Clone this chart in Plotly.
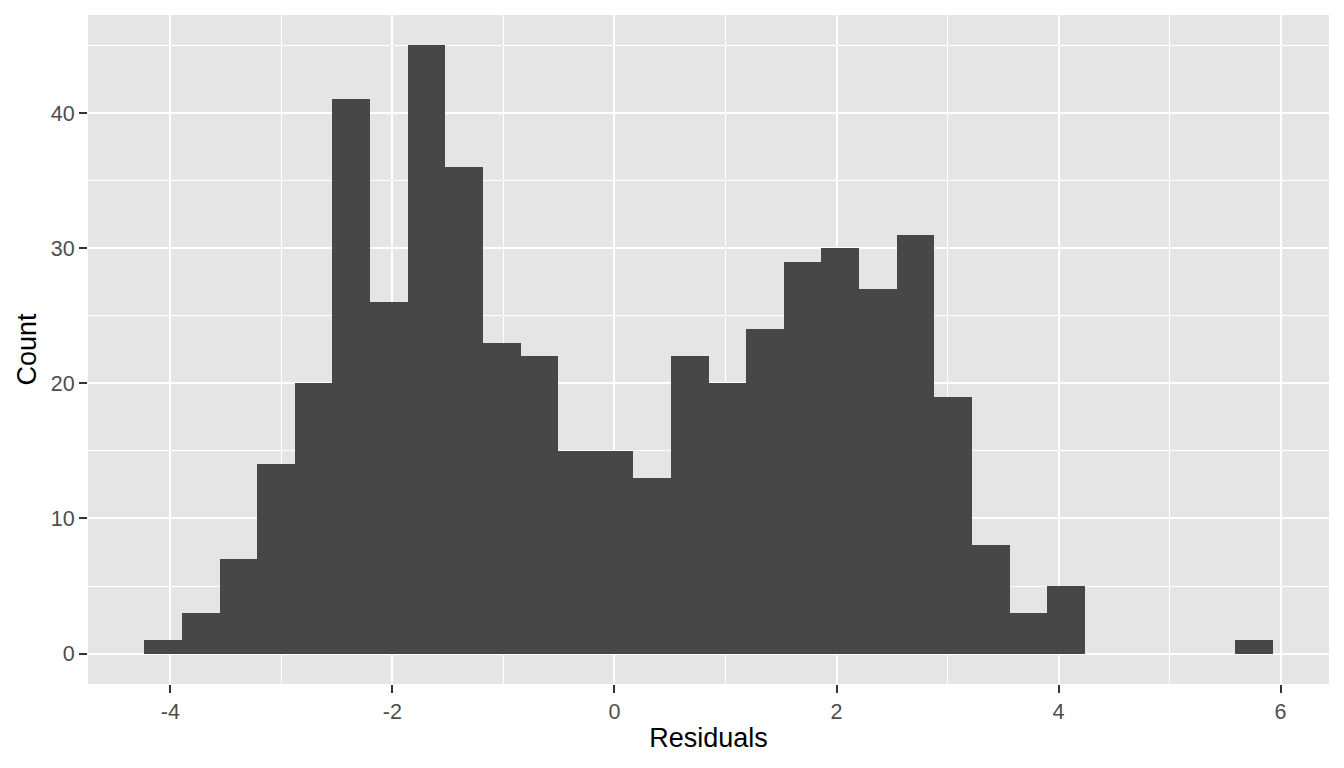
import plotly.graph_objects as go

counts = [1, 3, 7, 14, 20, 41, 26, 45, 36, 23, 22, 15, 15, 13, 22, 20, 24, 29, 30, 27, 31, 19, 8, 3, 5, 0, 0, 0, 0, 1]
bin_start = -4.234
bin_width = 0.3388
x_ticks = [-4, -2, 0, 2, 4, 6]
x_tick_text = ["-4", "-2", "0", "2", "4", "6"]
x_minor = [-5, -3, -1, 1, 3, 5]
y_ticks = [0, 10, 20, 30, 40]
y_minor = [5, 15, 25, 35, 45]

centers = [bin_start + bin_width * (i + 0.5) for i in range(len(counts))]

fig = go.Figure(go.Bar(
    x=centers, y=counts, width=[bin_width] * len(counts),
    marker=dict(color="#474747", line=dict(width=0)),
    hoverinfo="x+y",
))

FONT = "Liberation Sans, Arial, sans-serif"

def axis(**kw):
    d = dict(
        showgrid=True, gridcolor="white", gridwidth=2.4,
        zeroline=False, showline=False, automargin=False,
        ticks="outside", ticklen=8, tickwidth=2, tickcolor="#333333",
        tickfont=dict(family=FONT, size=21.5, color="#4D4D4D"),
    )
    d.update(kw)
    return d

fig.update_layout(
    width=1328, height=752,
    margin=dict(l=80, r=7, t=7, b=76),
    paper_bgcolor="white", plot_bgcolor="#E5E5E5",
    bargap=0, showlegend=False,
    font=dict(family=FONT, color="black"),
    xaxis=axis(range=[-4.742, 6.436], tickvals=x_ticks, ticktext=x_tick_text,
               minor=dict(showgrid=True, gridcolor="white", gridwidth=1.2, ticks="", tickvals=x_minor),
               title=dict(text="Residuals", font=dict(family=FONT, size=27, color="black"), standoff=5)),
    yaxis=axis(range=[-2.25, 47.25], tickvals=y_ticks,
               minor=dict(showgrid=True, gridcolor="white", gridwidth=1.2, ticks="", tickvals=y_minor),
               title=dict(text="Count", font=dict(family=FONT, size=27, color="black"), standoff=6)),
)

fig.write_html("out.html")
